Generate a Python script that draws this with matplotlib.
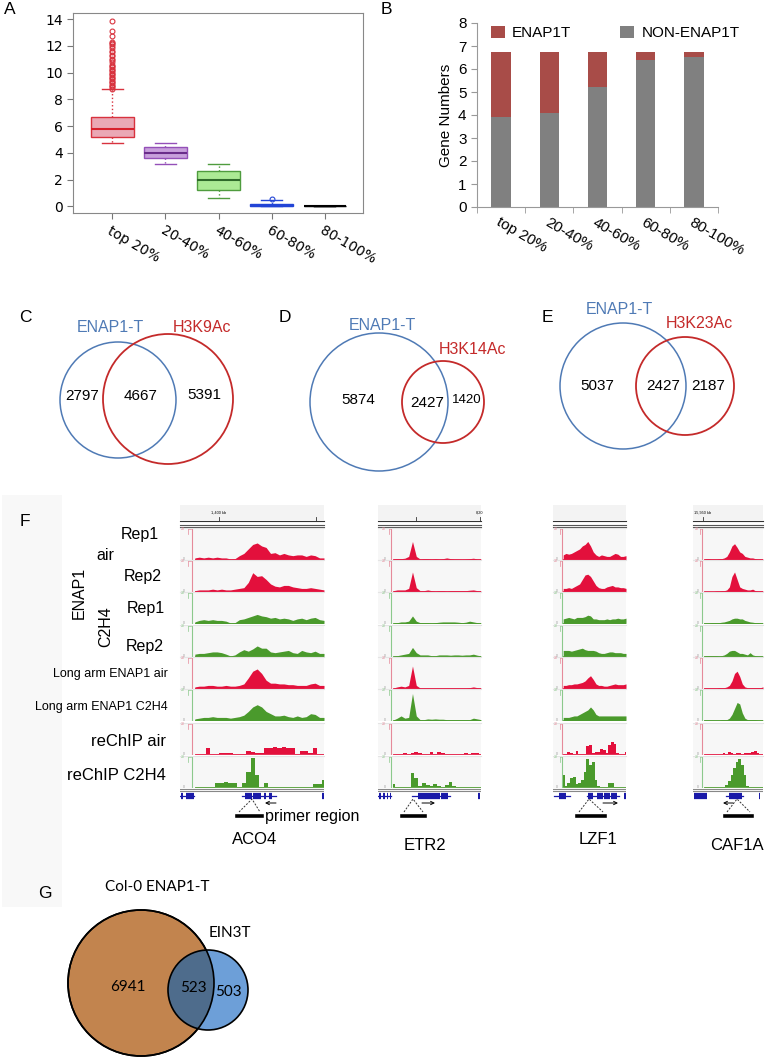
import numpy as np
import matplotlib.pyplot as plt
from matplotlib.patches import Circle, Rectangle

plt.rcParams['font.family'] = ['Liberation Sans', 'DejaVu Sans']

# ---------------- data ----------------
bin_labels = ['top 20%', '20-40%', '40-60%', '60-80%', '80-100%']

# panel A: box statistics per bin
box_q1 = [5.2, 3.6, 1.25, 0.02, 0.0]
box_med = [5.8, 4.02, 2.0, 0.05, 0.0]
box_q3 = [6.65, 4.4, 2.65, 0.2, 0.0]
whisk_lo = [4.75, 3.15, 0.6, 0.0, 0.0]
whisk_hi = [8.75, 4.75, 3.2, 0.5, 0.0]
fliers_top = [8.8, 8.9, 9.0, 9.1, 9.2, 9.3, 9.4, 9.5, 9.6, 9.7, 9.8, 9.9, 10.0, 10.1,
              10.2, 10.3, 10.4, 10.5, 10.6, 10.8, 10.9, 11.0, 11.2, 11.3, 11.5, 11.6,
              11.8, 12.0, 12.1, 12.2, 12.3, 12.7, 13.1, 13.85]
fliers_60 = [0.55]

# panel B: stacked bars
non_enap1t = [3.93, 4.07, 5.22, 6.37, 6.53]
enap1t = [2.80, 2.66, 1.51, 0.36, 0.20]

# Venn counts
venn_c = [2797, 4667, 5391]
venn_d = [5874, 2427, 1420]
venn_e = [5037, 2427, 2187]
venn_g = [6941, 523, 503]

# panel F: browser tracks (signal on a 0-20 scale)
track_names = ['Rep1 air', 'Rep2 air', 'Rep1 C2H4', 'Rep2 C2H4',
               'Long arm ENAP1 air', 'Long arm ENAP1 C2H4', 'reChIP air', 'reChIP C2H4']
gene_names = ['ACO4', 'ETR2', 'LZF1', 'CAF1A']

aco4_signal = [
    [1, 1.5, 1, 1.5, 1, 1.5, 1, 1, 0.3, 0.5, 2.5, 4, 7, 10, 11, 9, 8, 4, 4.5, 3, 4, 3, 2.5, 3, 3, 2, 3, 2.5, 1, 1],
    [0.5, 1, 1, 1, 1.5, 1, 1.5, 1, 1, 1.5, 2, 2.5, 6, 12.5, 10, 10.5, 8, 5, 3.5, 3, 4, 4, 3, 2.5, 2, 2, 2.5, 2, 1.5, 1],
    [1, 2, 2.5, 2, 2.5, 2, 2, 1.5, 0.3, 0.5, 2.5, 3, 4, 5, 6, 5, 4.5, 3.5, 4, 3, 3.5, 3, 2, 3, 3.5, 2.5, 3.5, 4, 2.5, 2],
    [1.5, 2, 2, 2.5, 3, 3, 2.5, 1.5, 0.3, 1, 3, 4.5, 3.5, 5, 7, 5.5, 5.5, 3, 2.5, 3, 3.5, 4, 2.5, 2, 4, 3, 2.5, 3.5, 2, 2],
    [1, 1.5, 1.5, 2, 2, 1.5, 1.5, 2, 1.5, 1.5, 2, 3, 7, 11.5, 13, 10, 5.5, 3.5, 3.5, 3, 3, 2.5, 2.5, 2, 2, 2, 3, 3.5, 2, 2],
    [1, 1.5, 2, 2, 2.5, 2, 2, 2, 1.5, 2, 2.5, 3.5, 6, 9, 10.5, 9, 6, 4.5, 3, 3, 3.5, 2.5, 2, 3, 2, 2.5, 4.5, 4, 2, 2],
    [0, 0.3, 0.5, 4, 0.3, 0, 0.8, 1, 1, 0.3, 0.3, 0, 2, 1.5, 1, 1, 4, 4.5, 5, 4.5, 5, 4.5, 4.5, 0.5, 2, 2, 1, 4, 0.5, 0.3],
    [0, 0, 0, 0, 0, 3, 3, 3.5, 3, 3, 0.3, 3, 10, 19.5, 8, 0.5, 3, 0, 0, 0, 0, 0, 0, 0, 0, 0, 0, 2, 2, 5],
]
etr2_signal = [
    [0.3, 0.5, 0.5, 0.8, 2, 12, 2, 0.3, 0.5, 0.5, 0.3, 0.5, 0.3, 0.5, 1, 0.5, 0.3, 0.3, 0.2, 0.3, 0.5, 0.8, 0.3, 0.3],
    [0.5, 1, 1, 1, 2, 13, 2.5, 0.5, 0.5, 1, 0.5, 0.3, 0.5, 0.5, 0.3, 0.5, 0.5, 0.5, 0.5, 0.5, 0.8, 1, 0.5, 0.3],
    [0.3, 0.5, 1, 1, 1.5, 5, 1.5, 0.5, 0.5, 0.5, 0.3, 0.5, 0.8, 1, 1, 1, 1, 0.8, 0.5, 0.8, 1.5, 1, 0.5, 0.3],
    [0.3, 0.5, 1, 1.5, 2, 6, 2.5, 1, 1, 1, 0.5, 0.5, 1, 1, 1, 0.8, 1, 1, 0.8, 1, 1, 1.5, 0.8, 0.3],
    [0.3, 1, 1.5, 1, 2, 15, 2, 0.3, 0.3, 0.3, 0.3, 0.3, 0.3, 0.3, 0.3, 0.3, 0.3, 0.3, 0.3, 0.3, 0.5, 1, 0.5, 0.3],
    [0.3, 1.5, 3, 1.5, 2, 18, 3, 0.5, 0.5, 1, 0.8, 1, 0.8, 0.8, 0.5, 0.5, 0.5, 0.5, 0.5, 0.5, 0.5, 1.5, 1, 0.5],
    [0, 0.5, 0.3, 1, 0.5, 1, 1.5, 1, 0.5, 0.3, 1.5, 0.5, 1.5, 1, 0.3, 0.5, 0.3, 0.5, 0.3, 1.2, 0.5, 1, 0.8, 0.3],
    [2, 0.3, 0, 0, 0.5, 9.5, 6, 1, 3, 1.5, 1, 2, 1, 0.5, 1.5, 3.5, 1, 0.5, 0.5, 0.5, 0.3, 0, 0, 0],
]
lzf1_signal = [
    [3, 4, 3.5, 4, 5, 6, 7, 9, 10, 12, 9, 5, 3, 2, 3, 2.5, 2, 2, 3, 4, 3.5, 2, 2, 2.5],
    [2, 2, 2.5, 2, 3, 4, 5, 8, 11, 11.5, 10, 7, 4, 2.5, 2, 2, 3, 3.5, 4, 3, 3, 2.5, 2.5, 2],
    [3, 3.5, 4, 3.5, 3, 4, 4, 4, 4.5, 5.5, 5, 3, 3, 2.5, 2.5, 2.5, 3, 2.5, 3, 3, 3.5, 3, 3, 3.5],
    [4, 4, 4, 3.5, 4, 4.5, 5, 5.5, 4.5, 4, 4, 4, 3.5, 2.5, 2, 2, 2.5, 3, 3, 2.5, 2.5, 2.5, 2, 2],
    [2, 2, 2.5, 2.5, 3, 3, 3.5, 4, 5, 7, 8.5, 6, 3, 2, 2, 1.5, 1.5, 2, 2.5, 3, 2.5, 2.5, 2.5, 3],
    [2, 2, 2, 2.5, 3, 3, 4, 5, 6, 7, 9, 7, 4, 3, 3, 3, 3, 3, 3, 3, 3, 3, 3, 3],
    [0, 0, 1.5, 1, 0.5, 2, 0.5, 0.5, 0.5, 5.5, 6.5, 1, 1.5, 1.5, 3.5, 3, 1, 6, 8, 7, 1, 0, 0, 1.5],
    [8, 1, 3, 6, 7, 2, 3, 5, 10, 19, 15, 17, 5, 1, 0.3, 0.3, 0.5, 3, 3, 0.5, 0.3, 0.3, 0.5, 0.3],
]
caf1a_signal = [
    [0, 0.5, 0.5, 0.3, 0.3, 0.3, 0.5, 0.5, 1, 2, 5, 9, 10.5, 8, 5, 4, 2, 1.5, 1, 1, 0.5, 0.3, 0.3, 0.3],
    [0, 0, 0, 0, 0, 0.3, 0.3, 0.5, 0.5, 1, 3, 10, 13, 8, 3, 2, 1.5, 1, 1, 1.5, 0.5, 0.3, 0.3, 0.3],
    [0.3, 0.3, 0.3, 0.5, 0.5, 0.5, 0.5, 0.8, 1, 1.5, 2, 3, 3.5, 3.5, 3, 3, 2, 1.5, 1, 0.8, 0.5, 0.5, 0.3, 0.3],
    [0.3, 0.5, 0.5, 0.5, 0.5, 0.5, 0.3, 0.5, 1, 2, 3.5, 4, 4, 3, 2, 2, 1.5, 1, 2.5, 1, 0.5, 0.3, 0.3, 0.3],
    [0.3, 0.3, 0.3, 0.3, 0.3, 0.3, 0.5, 0.5, 0.5, 1, 2, 5, 10, 11.5, 8, 3, 1, 0.5, 0.5, 0.5, 0.5, 0.5, 0.5, 1],
    [0.3, 0.3, 0.3, 0.3, 0.3, 0.3, 0.3, 0.5, 0.5, 0.5, 1.5, 4, 8, 12, 11, 5, 1.5, 0.5, 0.5, 0.5, 0.5, 0.3, 0.3, 0.3],
    [0, 0, 0, 0, 0, 0, 0, 0.5, 1, 0.5, 1.5, 1, 0.5, 1, 1, 0.5, 1, 1, 1, 1.5, 2, 1, 0.3, 0],
    [0, 0, 0, 0, 0, 0, 0.3, 0.3, 0.5, 1.5, 4, 8, 13, 17, 19, 15, 8, 1, 0.3, 0.3, 0, 0, 0, 0],
]

# gene models, as fractions of each browser window
exons = [
    [(0.01, 0.02), (0.04, 0.10), (0.45, 0.50), (0.51, 0.56), (0.58, 0.60), (0.615, 0.64), (0.985, 1.0)],
    [(0.01, 0.025), (0.05, 0.065), (0.085, 0.10), (0.115, 0.13), (0.39, 0.60), (0.61, 0.68), (0.975, 0.99)],
    [(0.08, 0.18), (0.48, 0.55), (0.60, 0.68), (0.70, 0.78), (0.80, 0.87), (0.975, 1.0)],
    [(0.02, 0.20), (0.52, 0.70), (0.94, 0.955)],
]
introns = [
    [(0.0, 0.10), (0.43, 0.67)],
    [(0.0, 0.13), (0.33, 0.70)],
    [(0.02, 0.23), (0.46, 0.90)],
    [(0.47, 0.72)],
]

# ---------------- figure ----------------
W, H = 765, 1059
fig = plt.figure(figsize=(W / 100, H / 100), dpi=100)


def box(l, t, r, b):
    return fig.add_axes([l / W, 1 - b / H, (r - l) / W, (b - t) / H])


ov = fig.add_axes([0, 0, 1, 1])
ov.set_xlim(0, W)
ov.set_ylim(H, 0)
ov.axis('off')

# panel letters
for lab, x, y in [('A', 10, 10), ('B', 386, 9), ('C', 25, 317), ('D', 285, 317),
                  ('E', 547, 317), ('F', 25, 522), ('G', 45, 894)]:
    ov.text(x, y, lab, fontsize=12.5, ha='center', va='center')

# ---------------- A: boxplot ----------------
axA = box(73, 13, 363, 213)
a_face = ['#eaa8b5', '#c8a0dc', '#acea95', '#8ea8f2', '#ffffff']
a_edge = ['#d8323e', '#9450b8', '#4f9c3e', '#2244d6', '#000000']
a_med = ['#d8202c', '#6a2d8a', '#2f6a2a', '#2244d6', '#000000']
a_fliers = [fliers_top, [], [], fliers_60, []]
for i in range(5):
    st = dict(label=bin_labels[i], q1=box_q1[i], med=box_med[i], q3=box_q3[i],
              whislo=whisk_lo[i], whishi=whisk_hi[i], fliers=a_fliers[i])
    axA.bxp([st], positions=[i + 1], widths=0.8, capwidths=0.4, patch_artist=True,
            boxprops=dict(facecolor=a_face[i], edgecolor=a_edge[i], lw=1),
            medianprops=dict(color=a_med[i], lw=1.5),
            whiskerprops=dict(color=a_edge[i], ls=':', lw=1),
            capprops=dict(color=a_edge[i], lw=1),
            flierprops=dict(marker='o', mfc='none', mec=a_edge[i], ms=3.5, mew=0.8))
axA.set_xlim(0.26, 5.72)
axA.set_ylim(-0.5, 14.45)
axA.set_yticks(range(0, 15, 2))
axA.set_xticks(range(1, 6))
axA.set_xticklabels(bin_labels, rotation=-30, ha='left', rotation_mode='anchor',
                    family='DejaVu Sans', fontsize=10)
for lab in axA.get_yticklabels():
    lab.set_family('DejaVu Sans')
axA.tick_params(colors='#777777', labelcolor='black', labelsize=10, length=4)
for s in axA.spines.values():
    s.set_color('#888888')

# ---------------- B: stacked bars ----------------
axB = box(477, 23, 718, 207)
xb = np.arange(len(bin_labels))
h_non = axB.bar(xb, non_enap1t, 0.4, color='#808080')
h_en = axB.bar(xb, enap1t, 0.4, bottom=non_enap1t, color='#a84c48')
axB.set_xlim(-0.48, 4.5)
axB.set_ylim(0, 8)
axB.set_yticks(range(0, 9))
axB.set_xticks(xb)
axB.set_xticklabels(bin_labels, rotation=-30, ha='left', rotation_mode='anchor', fontsize=11)
axB.set_xticks(np.arange(-0.5, 5, 1), minor=True)
axB.tick_params(axis='x', which='major', length=0, pad=6)
axB.tick_params(axis='x', which='minor', length=4, color='#999999')
axB.tick_params(axis='y', labelsize=11, color='#999999', length=4)
axB.set_ylabel('Gene Numbers', fontsize=11, labelpad=4)
axB.spines[['top', 'right']].set_visible(False)
axB.spines[['left', 'bottom']].set_color('#999999')
axB.legend([h_en, h_non], ['ENAP1T', 'NON-ENAP1T'], ncol=2, loc='upper left',
           bbox_to_anchor=(0.0, 1.06), frameon=False, fontsize=11, handlelength=0.9,
           handleheight=0.9, handletextpad=0.5, columnspacing=3.2)

# ---------------- C, D, E: Venn diagrams ----------------
blue_c, red_c = '#4f7ab5', '#c42a2a'


def venn(circ_a, circ_b, counts, pos, labels, lab_pos, fs):
    ov.add_patch(Circle(circ_a[:2], circ_a[2], fill=False, ec=blue_c, lw=1.1))
    ov.add_patch(Circle(circ_b[:2], circ_b[2], fill=False, ec=red_c, lw=1.3))
    for n, (x, y), f in zip(counts, pos, fs):
        ov.text(x, y, str(n), fontsize=f, ha='center', va='center')
    ov.text(*lab_pos[0], labels[0], color=blue_c, fontsize=11.5, ha='center', va='center')
    ov.text(*lab_pos[1], labels[1], color=red_c, fontsize=11.5, ha='center', va='center')


venn((118, 400, 58), (168, 399, 65), venn_c, [(82, 396), (141, 396), (204, 395)],
     ['ENAP1-T', 'H3K9Ac'], [(110, 328), (202, 327)], [11, 11, 11])
venn((379, 402, 69), (443, 402, 41), venn_d, [(358, 400), (427, 403), (467, 400)],
     ['ENAP1-T', 'H3K14Ac'], [(382, 325), (473, 349)], [11, 11, 9.5])
venn((623, 386, 63), (685, 386, 49), venn_e, [(597, 386), (663, 386), (708, 386)],
     ['ENAP1-T', 'H3K23Ac'], [(619, 309), (699, 323)], [11, 11, 11])

# ---------------- F: genome browser tracks ----------------
ov.add_patch(Rectangle((2, 495), 60, 412, fc='#f8f8f8', ec='none', zorder=0))

col_left = [180, 378, 553, 693]
col_right = [324, 481, 626, 763]
yaxis_x = [0.083, 0.13, 0.12, 0.13]
baselines = [559, 591, 623, 656, 688, 720, 754, 787]
red_sig, green_sig = '#e3103c', '#4a9a2c'
track_col = [red_sig, red_sig, green_sig, green_sig, red_sig, green_sig, red_sig, green_sig]
all_signal = [aco4_signal, etr2_signal, lzf1_signal, caf1a_signal]

for c in range(4):
    l, r = col_left[c], col_right[c]
    # header / ruler
    ov.add_patch(Rectangle((l, 505), r - l, 15, fc='#f3f3f3', ec='none'))
    ov.plot([l, r], [521, 521], color='#333333', lw=0.8)
    ov.plot([l, r], [524.5, 524.5], color='#555555', lw=0.8)
    ov.plot([l, r], [526.5, 526.5], color='#555555', lw=0.8)
    for t, sig in enumerate(all_signal[c]):
        b = baselines[t]
        ax = box(l, b - 31, r, b + 1)
        ax.set_facecolor('#f7f7f7')
        ax.set_xlim(0, 1)
        ax.set_ylim(-0.4, 21)
        ax.set_xticks([])
        ax.set_yticks([])
        for s in ax.spines.values():
            s.set_visible(False)
        ax.spines['top'].set_visible(True)
        ax.spines['top'].set_color('#e4e4e4')
        col = track_col[t]
        light = '#e58a9a' if col == red_sig else '#8cc98c'
        yx = yaxis_x[c]
        ax.plot([yx, yx], [0, 20], color=light, lw=0.8)
        ax.plot([yx - 0.025, yx - 0.025], [17, 20], color=light, lw=0.5)
        ax.plot([yx - 0.025, yx - 0.01], [20, 20], color=light, lw=0.5)
        ax.text(yx - 0.05, 20, '20', fontsize=2.5, color=light, ha='right', va='center')
        ax.text(yx - 0.05, 0.5, '0', fontsize=2.5, color='#999999', ha='right', va='center')
        x = np.linspace(yx + 0.02, 1, len(sig))
        step = 'mid' if t >= 6 else None
        ax.fill_between(x, 0, sig, color=col, lw=0, step=step)
        ax.plot([yx + 0.02, 1], [0, 0], color=col, lw=0.6)
    # gene model track
    g = box(l, 788, r, 802)
    g.set_xlim(0, 1)
    g.set_ylim(0, 1)
    g.axis('off')
    g.plot([0, 1], [0.95, 0.95], color='#888888', lw=0.8)
    g.plot([0, 1], [0.82, 0.82], color='#888888', lw=0.8)
    for a, e in introns[c]:
        g.plot([a, e], [0.4, 0.4], color='#1a1aa8', lw=0.9)
    for a, e in exons[c]:
        g.plot([a, e], [0.4, 0.4], color='#1a1aa8', lw=4.5, solid_capstyle='butt')

# ruler ticks
for x, lab in [(219, '1,400 kb'), (316, ''), (416, ''), (480, '8,20'), (703, '15,950 kb')]:
    ov.plot([x, x], [517, 521], color='#333333', lw=0.6)
    ov.text(x, 513, lab, fontsize=2.8, ha='center', va='center')

# track labels
ov.text(140, 535, 'Rep1', fontsize=11.5, ha='center', va='center')
ov.text(105, 556, 'air', fontsize=11.5, ha='center', va='center')
ov.text(143, 576, 'Rep2', fontsize=11.5, ha='center', va='center')
ov.text(146, 609, 'Rep1', fontsize=11.5, ha='center', va='center')
ov.text(145, 646, 'Rep2', fontsize=11.5, ha='center', va='center')
ov.text(79, 593, 'ENAP1', fontsize=11.5, ha='center', va='center', rotation=90)
ov.text(106, 627, 'C2H4', fontsize=11.5, ha='center', va='center', rotation=90)
ov.text(168, 674, track_names[4], fontsize=9, ha='right', va='center')
ov.text(168, 707, track_names[5], fontsize=9, ha='right', va='center')
ov.text(166, 742, track_names[6], fontsize=12, ha='right', va='center')
ov.text(166, 775, track_names[7], fontsize=12, ha='right', va='center')

# primer region marks and gene names
for apex, bl, br, a0, a1 in [(252, 237, 262, 276, 265), (413, 402, 425, 422, 435),
                             (589, 577, 605, 603, 618), (737, 725, 752, 733, 723)]:
    ov.plot([bl + 2, apex, br - 2], [812, 799, 812], color='#333333', lw=0.7, ls=(0, (2, 1.5)))
    ov.plot([bl, br], [815.5, 815.5], color='black', lw=2.6)
    ov.annotate('', xy=(a1, 803), xytext=(a0, 803),
                arrowprops=dict(arrowstyle='->', lw=0.7, color='black',
                                shrinkA=0, shrinkB=0, mutation_scale=6))
ov.text(265, 816, 'primer region', fontsize=11.5, ha='left', va='center')
for name, x, y in zip(gene_names, [255, 425, 598, 737], [840, 845, 840, 845]):
    ov.text(x, y, name, fontsize=12, ha='center', va='center')

# ---------------- G: Venn ----------------
brown = Circle((141, 983), 73, fc='#c2844e', ec='black', lw=1.2)
ov.add_patch(brown)
ov.add_patch(Circle((208, 990), 40, fc='#6d9fd8', ec='none'))
ov.add_patch(Circle((208, 990), 40, fc='#4e6c8c', ec='none', clip_path=brown))
ov.add_patch(Circle((141, 983), 73, fill=False, ec='black', lw=1.2))
ov.add_patch(Circle((208, 990), 40, fill=False, ec='black', lw=1.2))
ov.text(157, 887, 'Col-0 ENAP1-T', fontsize=11, ha='center', va='center', family='Lato')
ov.text(230, 933, 'EIN3T', fontsize=11, ha='center', va='center', family='Lato')
for n, x, y in zip(venn_g, [128, 193, 228], [987, 988, 992]):
    ov.text(x, y, str(n), fontsize=11, ha='center', va='center', family='Lato')

fig.savefig('out.png', dpi=100)
